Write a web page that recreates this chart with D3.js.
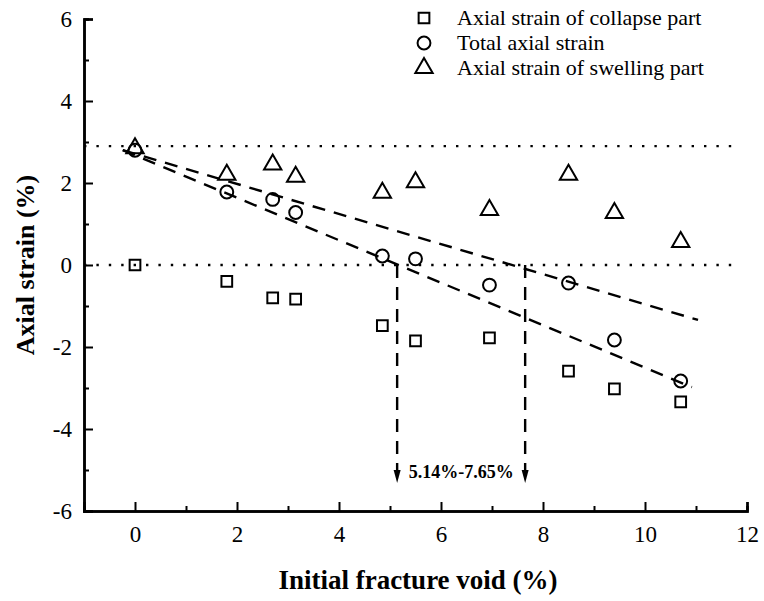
<!DOCTYPE html>
<html>
<head>
<meta charset="utf-8">
<script src="https://cdn.jsdelivr.net/npm/d3@7"></script>
<style>
  html, body { margin: 0; padding: 0; background: #fff; }
  svg { display: block; }
  text { font-family: "Liberation Serif", "Times New Roman", serif; fill: #000; }
</style>
</head>
<body>
<svg id="chart" width="764" height="601"></svg>
<script>
// Initial fracture void (%) for each specimen
const fractureVoid = [0, 1.8, 2.7, 3.15, 4.85, 5.5, 6.95, 8.5, 9.4, 10.7];
// Axial strain (%) of each part
const collapseStrain = [0, -0.4, -0.8, -0.83, -1.48, -1.85, -1.78, -2.59, -3.02, -3.34];
const totalStrain    = [2.8, 1.78, 1.6, 1.28, 0.22, 0.15, -0.49, -0.44, -1.83, -2.83];
const swellingStrain = [2.85, 2.2, 2.45, 2.15, 1.76, 2.02, 1.34, 2.2, 1.27, 0.56];

// Linear trend lines (start and end points)
const swellTrend = [[-0.24, 2.8], [11.04, -1.34]];
const totalTrend = [[-0.24, 2.8], [10.92, -2.98]];
// Reference levels
const refLevels = [2.9, 0];
// Zero-crossing interval of the two trend lines
const crossings = [5.14, 7.65];
const crossLabel = "5.14%-7.65%";
const arrowBottom = -5.32;

const xTicks = [0, 2, 4, 6, 8, 10, 12];
const xMinor = [1, 3, 5, 7, 9, 11];
const yTicks = [-6, -4, -2, 0, 2, 4, 6];
const yMinor = [-5, -3, -1, 1, 3, 5];

const legendNames = ["Axial strain of collapse part", "Total axial strain", "Axial strain of swelling part"];
const legendShapes = ["square", "circle", "triangle"];

const FONT = "'Liberation Serif', 'Times New Roman', serif";
const svg = d3.select("#chart");
const x = d3.scaleLinear().domain([-1, 12]).range([84, 747]);
const y = d3.scaleLinear().domain([-6, 6]).range([511, 19]);

// reference dotted lines
svg.append("g").selectAll("line").data(refLevels).join("line")
  .attr("x1", x(-1)).attr("x2", (d, i) => i === 0 ? 732 : 738)
  .attr("y1", d => y(d)).attr("y2", d => y(d))
  .attr("stroke", "#000").attr("stroke-width", 2.4)
  .attr("stroke-dasharray", "2.4,10");

// trend lines
const line = d3.line().x(d => x(d[0])).y(d => y(d[1]));
svg.append("g").selectAll("path").data([swellTrend, totalTrend]).join("path")
  .attr("d", line).attr("fill", "none").attr("stroke", "#000")
  .attr("stroke-width", 2.4).attr("stroke-dasharray", "13,9");

// vertical dashed arrows
const arrows = svg.append("g");
arrows.selectAll("line").data(crossings).join("line")
  .attr("x1", d => x(d)).attr("x2", d => x(d))
  .attr("y1", y(0)).attr("y2", y(arrowBottom) - 11)
  .attr("stroke", "#000").attr("stroke-width", 2.4).attr("stroke-dasharray", "13,9");
arrows.selectAll("path").data(crossings).join("path")
  .attr("d", d => {
    const cx = x(d), tip = y(arrowBottom);
    return `M${cx - 3.5},${tip - 13}L${cx + 3.5},${tip - 13}L${cx},${tip}Z`;
  })
  .attr("fill", "#000");
svg.append("text")
  .attr("x", (x(crossings[0]) + x(crossings[1])) / 2)
  .attr("y", y(arrowBottom) - 5)
  .attr("text-anchor", "middle")
  .attr("font-family", FONT).attr("font-size", 18).attr("font-weight", "bold")
  .text(crossLabel);

// marker symbols
const symbolPath = {
  square: d3.symbol(d3.symbolSquare, 115)(),
  circle: d3.symbol(d3.symbolCircle, 130)(),
  triangle: d3.symbol(d3.symbolTriangle, 130)()
};
const series = [
  { shape: "square", values: collapseStrain },
  { shape: "circle", values: totalStrain },
  { shape: "triangle", values: swellingStrain }
];
series.forEach(s => {
  svg.append("g").selectAll("path")
    .data(fractureVoid.map((v, i) => [v, s.values[i]]))
    .join("path")
    .attr("transform", d => `translate(${x(d[0])},${y(d[1])})`)
    .attr("d", symbolPath[s.shape])
    .attr("fill", "none").attr("stroke", "#000").attr("stroke-width", 2);
});

// axes
const axisX = svg.append("g").attr("transform", `translate(0,${y(-6)})`)
  .call(d3.axisBottom(x).tickValues(xTicks).tickSize(-9).tickPadding(15).tickFormat(d3.format("d")));
const axisXMinor = svg.append("g").attr("transform", `translate(0,${y(-6)})`)
  .call(d3.axisBottom(x).tickValues(xMinor).tickSize(-5).tickFormat(""));
const axisY = svg.append("g").attr("transform", `translate(${x(-1)},0)`)
  .call(d3.axisLeft(y).tickValues(yTicks).tickSize(-9).tickPadding(12).tickFormat(d => d < 0 ? "-" + Math.abs(d) : String(d)));
const axisYMinor = svg.append("g").attr("transform", `translate(${x(-1)},0)`)
  .call(d3.axisLeft(y).tickValues(yMinor).tickSize(-5).tickFormat(""));
[axisX, axisXMinor, axisY, axisYMinor].forEach(g => {
  g.attr("font-family", FONT).attr("font-size", 23);
  g.selectAll("path.domain").attr("stroke", "#000").attr("stroke-width", 2.5);
  g.selectAll(".tick line").attr("stroke", "#000").attr("stroke-width", 2);
  g.selectAll(".tick text").attr("fill", "#000");
});

// axis titles
svg.append("text")
  .attr("x", 418).attr("y", 589)
  .attr("text-anchor", "middle")
  .attr("font-family", FONT).attr("font-size", 27).attr("font-weight", "bold")
  .text("Initial fracture void (%)");
svg.append("text")
  .attr("transform", `translate(34,${y(0)}) rotate(-90)`)
  .attr("text-anchor", "middle")
  .attr("font-family", FONT).attr("font-size", 26).attr("font-weight", "bold")
  .text("Axial strain (%)");

// legend
const legend = svg.append("g");
legendNames.forEach((name, i) => {
  const ly = 18 + i * 25;
  legend.append("path")
    .attr("transform", `translate(424,${ly})`)
    .attr("d", symbolPath[legendShapes[i]])
    .attr("fill", "none").attr("stroke", "#000").attr("stroke-width", 2);
  legend.append("text")
    .attr("x", 457).attr("y", ly + 7)
    .attr("font-family", FONT).attr("font-size", 22)
    .text(name);
});
</script>
</body>
</html>
